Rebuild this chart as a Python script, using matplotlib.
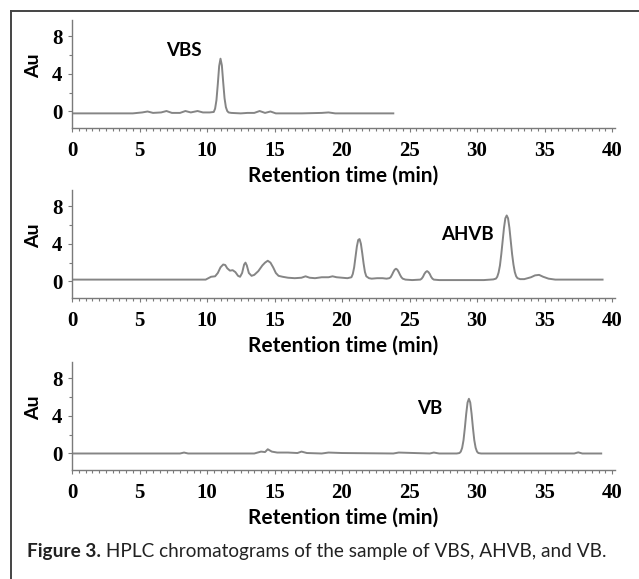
import matplotlib
matplotlib.use('Agg')
import matplotlib.pyplot as plt
from matplotlib.lines import Line2D
from matplotlib.ticker import MultipleLocator

# VBS trace (time in min, absorbance in Au)
vbs_time = [0, 4.5, 5.2, 5.6, 6.0, 6.6, 7.0, 7.4, 8.0, 8.4, 8.8, 9.3, 9.7, 10.2, 10.5,
            10.6, 10.7, 10.8, 10.9, 11.0, 11.1, 11.2, 11.3, 11.4, 11.5, 11.6, 11.8, 12.5,
            13.0, 13.5, 13.9, 14.3, 14.7, 15.1, 15.6, 17.0, 18.5, 19.0, 19.5, 21.0, 23.8]
vbs_au = [-0.2, -0.2, -0.1, 0.0, -0.15, -0.1, 0.05, -0.15, -0.15, 0.05, -0.1, 0.05, -0.1,
          -0.1, -0.05, 0.3, 1.2, 2.9, 4.8, 5.6, 4.9, 3.1, 1.4, 0.45, 0.05, -0.1, -0.15,
          -0.2, -0.15, -0.15, 0.05, -0.15, 0.0, -0.2, -0.2, -0.2, -0.15, -0.1, -0.2, -0.2,
          -0.2]

# AHVB trace
ahvb_time = [0, 9.9, 10.1, 10.3, 10.6, 10.8, 11.0, 11.2, 11.35, 11.5, 11.7, 11.9, 12.1,
             12.3, 12.45, 12.6, 12.75, 12.85, 12.95, 13.1, 13.3, 13.5, 13.8, 14.1, 14.3,
             14.5, 14.7, 14.9, 15.1, 15.3, 15.6, 16.0, 16.5, 17.0, 17.3, 17.6, 18.0, 18.5,
             19.0, 19.3, 19.6, 20.0, 20.4, 20.7, 20.8, 20.9, 21.0, 21.1, 21.2, 21.3, 21.4,
             21.5, 21.6, 21.7, 21.8, 22.0, 22.2, 22.6, 23.0, 23.3, 23.5, 23.6, 23.7, 23.8,
             23.9, 24.0, 24.1, 24.2, 24.3, 24.4, 24.5, 24.7, 25.2, 25.8, 25.9, 26.0, 26.1,
             26.2, 26.3, 26.4, 26.5, 26.6, 26.7, 26.8, 27.2, 30.5, 31.0, 31.2, 31.4, 31.5,
             31.6, 31.7, 31.8, 31.9, 32.0, 32.1, 32.2, 32.3, 32.4, 32.5, 32.6, 32.7, 32.8,
             32.9, 33.0, 33.2, 33.5, 34.0, 34.3, 34.6, 34.9, 35.3, 35.8, 37.0, 39.3]
ahvb_au = [0.2, 0.2, 0.35, 0.5, 0.55, 0.9, 1.5, 1.8, 1.75, 1.4, 1.15, 1.2, 1.0,
           0.6, 0.5, 0.9, 1.8, 2.0, 1.7, 0.9, 0.6, 0.7, 1.1, 1.7, 2.0,
           2.2, 2.0, 1.5, 0.9, 0.6, 0.5, 0.4, 0.35, 0.4, 0.55, 0.4, 0.35, 0.45,
           0.45, 0.55, 0.45, 0.4, 0.35, 0.45, 0.8, 1.5, 2.6, 3.7, 4.4, 4.5, 4.0,
           3.0, 1.9, 1.0, 0.55, 0.35, 0.3, 0.35, 0.35, 0.3, 0.35, 0.45, 0.7, 1.0,
           1.25, 1.35, 1.25, 1.0, 0.7, 0.45, 0.3, 0.2, 0.15, 0.2, 0.3, 0.5, 0.8,
           1.0, 1.1, 1.0, 0.8, 0.5, 0.3, 0.2, 0.15, 0.15, 0.2, 0.22, 0.3, 0.5,
           0.95, 1.7, 2.9, 4.3, 5.7, 6.7, 7.0, 6.7, 5.7, 4.3, 2.9, 1.8, 1.0,
           0.55, 0.35, 0.25, 0.25, 0.45, 0.65, 0.7, 0.5, 0.3, 0.2, 0.2, 0.2]

# VB trace
vb_time = [0, 8.0, 8.3, 8.6, 13.5, 14.0, 14.3, 14.5, 14.8, 15.2, 16.0, 16.7, 17.0, 17.4,
           18.5, 19.0, 20.0, 23.8, 24.2, 26.5, 26.8, 27.2, 28.5, 28.7, 28.8, 28.9, 29.0,
           29.1, 29.2, 29.3, 29.4, 29.5, 29.6, 29.7, 29.8, 29.9, 30.0, 30.1, 30.3, 37.2,
           37.5, 37.8, 39.2]
vb_au = [0.0, 0.0, 0.1, 0.0, 0.0, 0.2, 0.15, 0.45, 0.2, 0.1, 0.1, 0.05, 0.2, 0.05,
         0.0, 0.1, 0.05, 0.0, 0.1, 0.0, 0.1, 0.0, 0.0, 0.05, 0.2, 0.6, 1.4,
         2.7, 4.2, 5.4, 5.8, 5.4, 4.2, 2.7, 1.4, 0.6, 0.2, 0.05, 0.0, 0.0,
         0.12, 0.0, 0.0]

panel_names = ['VBS', 'AHVB', 'VB']
name_pos = [(8.3, 6.5), (29.3, 5.0), (26.5, 4.8)]
x_ticks = [0, 5, 10, 15, 20, 25, 30, 35, 40]
y_ticks = [0, 4, 8]

W, H = 639, 579
fig = plt.figure(figsize=(W / 100, H / 100), dpi=100)

# axes boxes in pixels from the top: (top, bottom)
boxes = [(20, 128), (190, 298), (362, 470)]
traces = [(vbs_time, vbs_au), (ahvb_time, ahvb_au), (vb_time, vb_au)]

sans = 'Lato'
serif = 'Liberation Serif'
axis_col = '#7a7a7a'
line_col = '#858585'

for i in range(3):
    top, bot = boxes[i]
    ax = fig.add_axes([72 / W, 1 - bot / H, 542.7 / W, (bot - top) / H])
    t, a = traces[i]
    ax.plot(t, a, color=line_col, linewidth=1.4)
    ax.set_xlim(0, 40.2)
    ax.set_ylim(-1.75, 9.7)
    for s in ['top', 'right']:
        ax.spines[s].set_visible(False)
    for s in ['left', 'bottom']:
        ax.spines[s].set_color(axis_col)
        ax.spines[s].set_linewidth(1.0)
    ax.set_xticks(x_ticks)
    ax.set_yticks(y_ticks)
    ax.xaxis.set_minor_locator(MultipleLocator(0.5))
    ax.yaxis.set_minor_locator(MultipleLocator(2))
    ax.tick_params(which='both', direction='out', color=axis_col, width=0.8)
    ax.tick_params(which='major', length=3)
    ax.tick_params(which='minor', length=2.2)
    ax.tick_params(axis='x', which='major', pad=6)
    ax.tick_params(axis='y', which='major', pad=4)
    for lab in ax.get_xticklabels() + ax.get_yticklabels():
        lab.set_family(serif)
        lab.set_fontweight('bold')
        lab.set_fontsize(15)
    ax.set_xlabel('Retention time (min)', family=sans, fontweight='bold', fontsize=15,
                  labelpad=4)
    ax.set_ylabel('Au', family=sans, fontweight='bold', fontsize=14)
    ax.yaxis.set_label_coords(-0.055, 0.58)
    ax.text(name_pos[i][0], name_pos[i][1], panel_names[i], family=sans,
            fontweight='bold', fontsize=13.5, ha='center', va='center')

# frame lines round the figure
fig.add_artist(Line2D([11 / W, 1], [1 - 11 / H, 1 - 11 / H], transform=fig.transFigure,
                      color='#444444', linewidth=1.4))
fig.add_artist(Line2D([11 / W, 11 / W], [0, 1 - 11 / H], transform=fig.transFigure,
                      color='#444444', linewidth=1.4))

# caption: bold "Figure 3." followed by regular text
cap_y = 1 - 552 / H
cap = fig.text(27 / W, cap_y, 'Figure 3.', family=sans, fontweight='bold',
               fontsize=13.7, color='#222222', va='center')
fig.canvas.draw()
bb = cap.get_window_extent()
fig.text(bb.x1 / W, cap_y, ' HPLC chromatograms of the sample of VBS, AHVB, and VB.',
         family=sans, fontsize=13.7, color='#222222', va='center')

fig.savefig('out.png', dpi=100)
